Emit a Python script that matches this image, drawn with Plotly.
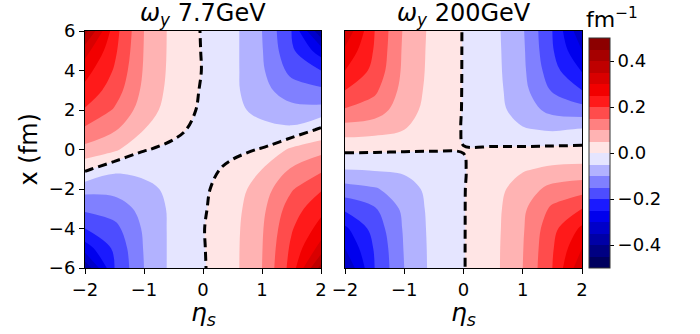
import plotly.graph_objects as go

# ---------------- data ----------------
eta_s = [-2.0, -1.5, -1.0, -0.5, 0.0, 0.5, 1.0, 1.5, 2.0]
x_fm = [6, 5, 4, 3, 2, 1, 0, -1, -2, -3, -4, -5, -6]   # rows of the tables below

# omega_y at 7.7 GeV, rows follow x_fm, columns follow eta_s  [fm^-1]
omega_y_7p7 = [
    [0.42, 0.22, 0.100, 0.035, -0.004, -0.035, -0.100, -0.200, -0.390],
    [0.32, 0.21, 0.098, 0.035, -0.003, -0.036, -0.097, -0.190, -0.275],
    [0.27, 0.195, 0.095, 0.034, -0.002, -0.037, -0.093, -0.165, -0.200],
    [0.235, 0.175, 0.088, 0.031, -0.005, -0.038, -0.085, -0.125, -0.140],
    [0.195, 0.145, 0.075, 0.025, -0.008, -0.036, -0.065, -0.085, -0.085],
    [0.14, 0.105, 0.050, 0.012, -0.016, -0.028, -0.035, -0.040, 0.010],
    [0.085, 0.06, 0.003, -0.012, -0.020, -0.012, 0.003, 0.060, 0.085],
    [0.010, -0.040, -0.035, -0.028, -0.016, 0.012, 0.050, 0.105, 0.140],
    [-0.085, -0.085, -0.065, -0.036, -0.008, 0.025, 0.075, 0.145, 0.195],
    [-0.140, -0.125, -0.085, -0.038, -0.005, 0.031, 0.088, 0.175, 0.235],
    [-0.200, -0.165, -0.093, -0.037, -0.002, 0.034, 0.095, 0.195, 0.270],
    [-0.275, -0.190, -0.097, -0.036, -0.003, 0.035, 0.098, 0.210, 0.320],
    [-0.390, -0.200, -0.100, -0.035, -0.004, 0.035, 0.100, 0.220, 0.420],
]

# omega_y at 200 GeV
omega_y_200 = [
    [0.34, 0.20, 0.093, 0.035, -0.002, -0.035, -0.095, -0.200, -0.340],
    [0.29, 0.195, 0.090, 0.034, -0.002, -0.034, -0.092, -0.195, -0.300],
    [0.25, 0.185, 0.088, 0.033, -0.002, -0.033, -0.090, -0.180, -0.255],
    [0.20, 0.16, 0.082, 0.031, -0.002, -0.031, -0.085, -0.155, -0.200],
    [0.145, 0.125, 0.072, 0.027, -0.002, -0.028, -0.075, -0.115, -0.130],
    [0.075, 0.068, 0.050, 0.020, -0.002, -0.022, -0.045, -0.055, -0.045],
    [0.010, 0.008, 0.005, 0.002, 0.0005, 0.004, 0.008, 0.012, 0.012],
    [-0.049, -0.045, -0.040, -0.020, -0.002, 0.020, 0.045, 0.060, 0.065],
    [-0.120, -0.105, -0.075, -0.030, -0.002, 0.030, 0.075, 0.115, 0.130],
    [-0.190, -0.155, -0.088, -0.033, -0.002, 0.033, 0.090, 0.160, 0.200],
    [-0.260, -0.180, -0.094, -0.034, -0.002, 0.034, 0.095, 0.185, 0.260],
    [-0.300, -0.195, -0.097, -0.035, -0.002, 0.035, 0.098, 0.195, 0.300],
    [-0.350, -0.200, -0.100, -0.035, -0.002, 0.035, 0.100, 0.200, 0.340],
]

titles = ["<i>ω<sub>y</sub></i> 7.7GeV", "<i>ω<sub>y</sub></i> 200GeV"]
cbar_ticks = [-0.4, -0.2, 0.0, 0.2, 0.4]
cbar_text = ["\u22120.4", "\u22120.2", "0.0", "0.2", "0.4"]
x_ticks = [-2, -1, 0, 1, 2]
x_text = ["\u22122", "\u22121", "0", "1", "2"]
y_ticks = [-6, -4, -2, 0, 2, 4, 6]
y_text = ["\u22126", "\u22124", "\u22122", "0", "2", "4", "6"]

# ---------------- style ----------------
W, H = 700, 334
FONT = "DejaVu Sans"
lev_start, lev_end, lev_size = -0.5, 0.5, 0.05
nb = 20


def seismic(t):
    def interp(pts, t):
        for (a, va), (b, vb) in zip(pts[:-1], pts[1:]):
            if t <= b:
                return va + (vb - va) * (t - a) / (b - a)
        return pts[-1][1]
    r = interp([(0, 0), (0.25, 0), (0.5, 1), (0.75, 1), (1, 0.5)], t)
    g = interp([(0, 0), (0.25, 0), (0.5, 1), (0.75, 0), (1, 0)], t)
    b = interp([(0, 0.3), (0.25, 1), (0.5, 1), (0.75, 0), (1, 0)], t)
    return "rgb(%d,%d,%d)" % (round(r * 255), round(g * 255), round(b * 255))


band_cols = [seismic((k + 0.5) / nb) for k in range(nb)]
cscale = []
n = nb + 1
for k in range(nb):
    lo = 0.0 if k == 0 else (k + 0.5) / n
    hi = 1.0 if k == nb - 1 else (k + 1.5) / n
    cscale.append([lo, band_cols[k]])
    cscale.append([hi, band_cols[k]])


def px(xp):
    return xp / W


def py(yp):
    return 1 - yp / H


ax_dom = [[px(85), px(321)], [px(345), px(582)]]
y_dom = [py(268), py(31)]

fig = go.Figure()
data = [omega_y_7p7, omega_y_200]
for i, z in enumerate(data):
    xa = "x" if i == 0 else "x2"
    ya = "y" if i == 0 else "y2"
    fig.add_trace(go.Contour(
        x=eta_s, y=x_fm, z=z, xaxis=xa, yaxis=ya,
        zmin=lev_start, zmax=lev_end,
        colorscale=cscale,
        contours=dict(start=lev_start, end=lev_end, size=lev_size, coloring="fill"),
        line=dict(width=0, smoothing=1),
        hoverinfo="skip",
        showscale=(i == 1),
        colorbar=dict(
            x=px(589), xanchor="left", xpad=0,
            y=py(268), yanchor="bottom", ypad=0,
            len=230, lenmode="pixels", thickness=21,
            outlinewidth=1, outlinecolor="#333",
            tickvals=cbar_ticks, ticktext=cbar_text,
            ticks="outside", ticklen=4, tickcolor="black",
            tickfont=dict(family=FONT, size=18, color="black"),
        ),
    ))
    fig.add_trace(go.Contour(
        x=eta_s, y=x_fm, z=z, xaxis=xa, yaxis=ya,
        contours=dict(start=0, end=0, size=1, coloring="none"),
        line=dict(color="black", width=3, dash="9px,5px", smoothing=1),
        hoverinfo="skip", showscale=False,
    ))

axis_common = dict(
    showline=True, mirror=True, linecolor="black", linewidth=1,
    ticks="outside", ticklen=5, tickwidth=1, tickcolor="black",
    showgrid=False, zeroline=False,
    tickfont=dict(family=FONT, size=18, color="black"),
)

fig.update_layout(
    width=W, height=H,
    margin=dict(l=0, r=0, t=0, b=0, autoexpand=False),
    paper_bgcolor="white", plot_bgcolor="white",
    showlegend=False,
    xaxis=dict(axis_common, domain=ax_dom[0], range=[-2, 2], anchor="y",
               tickvals=x_ticks, ticktext=x_text),
    xaxis2=dict(axis_common, domain=ax_dom[1], range=[-2, 2], anchor="y2",
                tickvals=x_ticks, ticktext=x_text),
    yaxis=dict(axis_common, domain=y_dom, range=[-6, 6], anchor="x",
               tickvals=y_ticks, ticktext=y_text),
    yaxis2=dict(axis_common, domain=y_dom, range=[-6, 6], anchor="x2",
                showticklabels=False, ticks=""),
)

annos = []
for i in range(2):
    cx = (ax_dom[i][0] + ax_dom[i][1]) / 2
    annos.append(dict(x=cx, y=py(15), xref="paper", yref="paper", text=titles[i],
                      showarrow=False, xanchor="center", yanchor="middle",
                      font=dict(family=FONT, size=24, color="black")))
    annos.append(dict(x=cx, y=py(314), xref="paper", yref="paper",
                      text="<i>η<sub>s</sub></i>",
                      showarrow=False, xanchor="center", yanchor="middle",
                      font=dict(family=FONT, size=25, color="black")))
annos.append(dict(x=px(28), y=py(149.5), xref="paper", yref="paper", text="x (fm)",
                  textangle=-90, showarrow=False, xanchor="center", yanchor="middle",
                  font=dict(family=FONT, size=24, color="black")))
annos.append(dict(x=px(584), y=py(18), xref="paper", yref="paper",
                  text="fm<sup>\u22121</sup>", showarrow=False,
                  xanchor="left", yanchor="middle",
                  font=dict(family=FONT, size=22, color="black")))
fig.update_layout(annotations=annos)

fig.write_html("out.html")
